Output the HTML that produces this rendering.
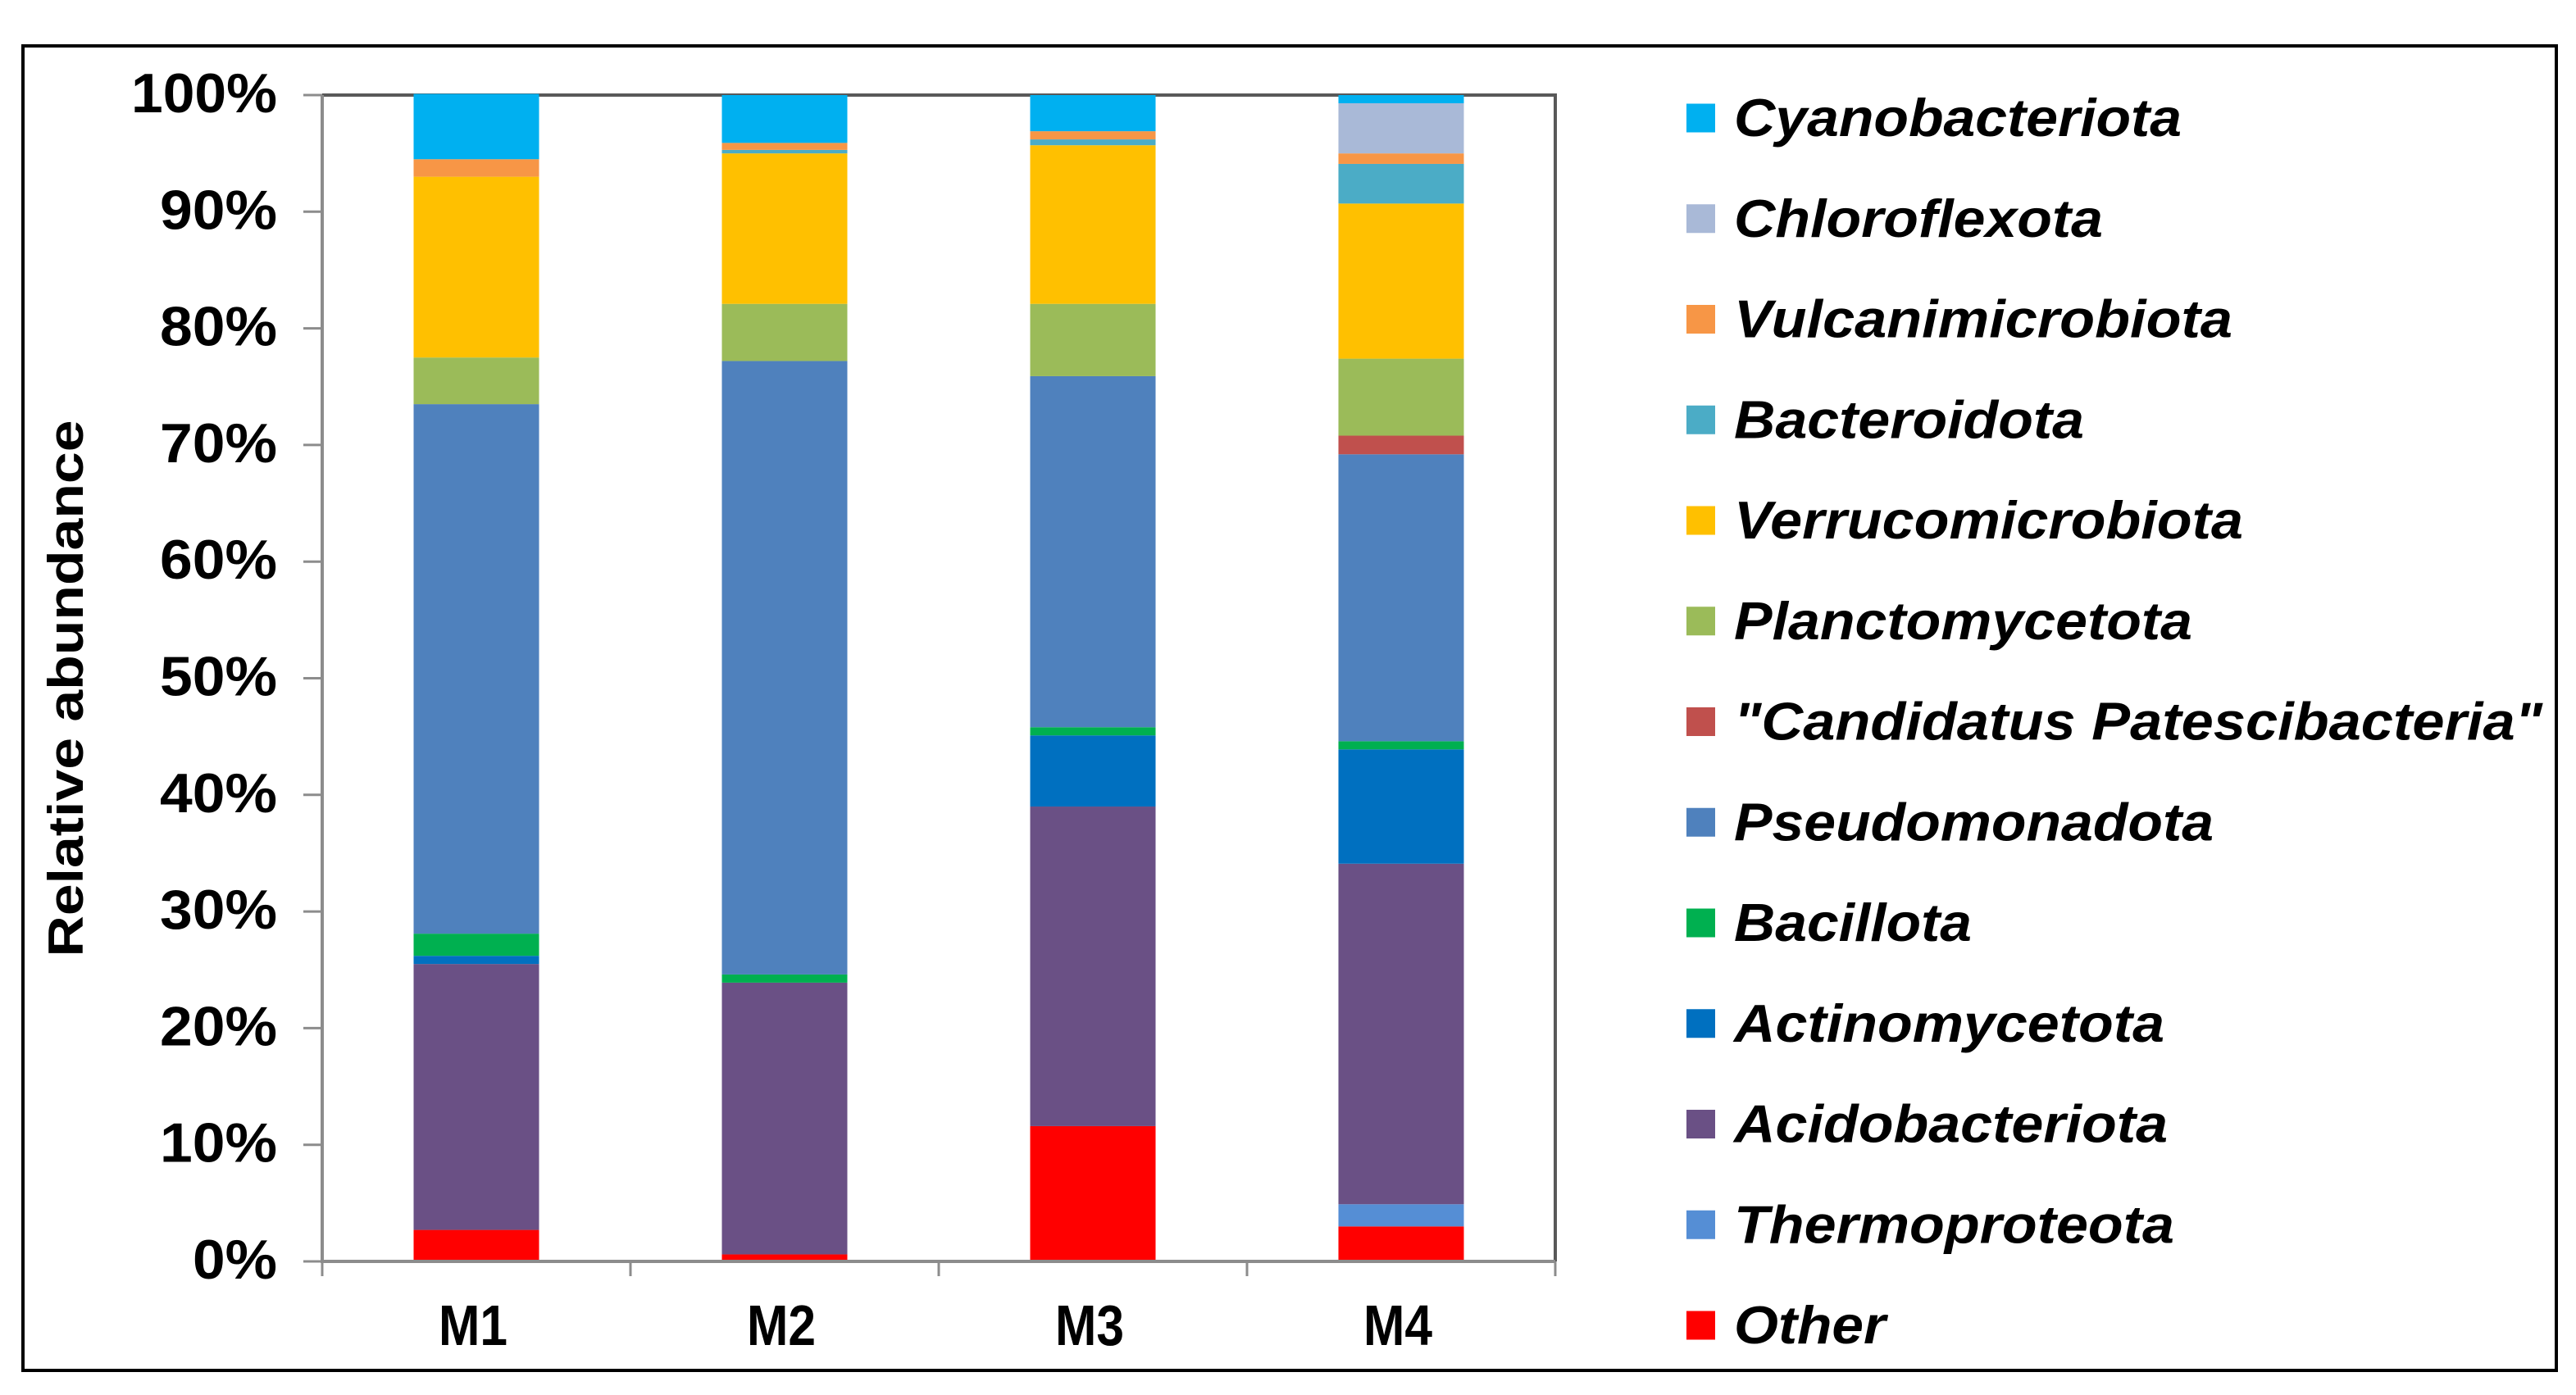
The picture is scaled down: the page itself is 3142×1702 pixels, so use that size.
<!DOCTYPE html>
<html><head><meta charset="utf-8"><style>
html,body{margin:0;padding:0;background:#fff;}
svg{display:block;font-family:"Liberation Sans",Arial,sans-serif;}
</style></head><body>
<svg id="chart" width="3142" height="1702" viewBox="0 0 3142 1702" xmlns="http://www.w3.org/2000/svg">
<rect x="28" y="56" width="3090" height="1616" fill="#fff" stroke="#000" stroke-width="4"/>
<text x="0" y="0" transform="translate(101,840) rotate(-90)" text-anchor="middle" font-size="60" font-weight="bold" textLength="655" lengthAdjust="spacingAndGlyphs">Relative abundance</text>
<g id="plot"></g>
<g id="legend"></g>
</svg>
<script>
const categories = ["M1","M2","M3","M4"];
const seriesNames = ["Other","Thermoproteota","Acidobacteriota","Actinomycetota","Bacillota","Pseudomonadota","\"Candidatus Patescibacteria\"","Planctomycetota","Verrucomicrobiota","Bacteroidota","Vulcanimicrobiota","Chloroflexota","Cyanobacteriota"];
const other = [2.7, 0.6, 11.6, 3.0];
const thermoproteota = [0, 0, 0, 1.9];
const acidobacteriota = [22.8, 23.3, 27.4, 29.2];
const actinomycetota = [0.7, 0, 6.1, 9.8];
const bacillota = [1.9, 0.7, 0.7, 0.7];
const pseudomonadota = [45.4, 52.6, 30.1, 24.6];
const patescibacteria = [0, 0, 0, 1.6];
const planctomycetota = [4.0, 4.9, 6.2, 6.6];
const verrucomicrobiota = [15.5, 12.9, 13.6, 13.3];
const bacteroidota = [0, 0.3, 0.5, 3.4];
const vulcanimicrobiota = [1.5, 0.6, 0.7, 0.9];
const chloroflexota = [0, 0, 0, 4.3];
const cyanobacteriota = [5.6, 4.1, 3.1, 0.7];
const yTicks = [0,10,20,30,40,50,60,70,80,90,100];
const yTickLabels = ["0%","10%","20%","30%","40%","50%","60%","70%","80%","90%","100%"];

const colors = ["#ff0000","#558ed5","#6a5085","#0070c0","#00b050","#4f81bd","#c0504d","#9bbb59","#ffc000","#4bacc6","#f79646","#a9b9d7","#00b0f0"];
const series = [other,thermoproteota,acidobacteriota,actinomycetota,bacillota,pseudomonadota,patescibacteria,planctomycetota,verrucomicrobiota,bacteroidota,vulcanimicrobiota,chloroflexota,cyanobacteriota];
const legendWidths = [185,537,529,525,290,585,986,559,621,427,608,450,546];

const NS="http://www.w3.org/2000/svg";
const X0=393, X1=1897, Y0=1539, Y1=116;
const catW=(X1-X0)/categories.length, barW=153;
function y(v){return Y0-(v/100)*(Y0-Y1);}
function xc(i){return X0+catW*(i+0.5);}
function mk(tag,attrs,parent){const e=document.createElementNS(NS,tag);for(const k in attrs)e.setAttribute(k,attrs[k]);parent.appendChild(e);return e;}
const plot=document.getElementById('plot');

const pb=mk('path',{d:`M${X0} ${Y1} H${X1} V${Y0}`,fill:'none',stroke:'#595959','stroke-width':4},plot);



categories.forEach((c,i)=>{
  let cum=0;
  series.forEach((s,j)=>{
    const v=s[i];
    if(v>0){
      const r=mk('rect',{x:xc(i)-barW/2,y:y(cum+v),width:barW,height:y(cum)-y(cum+v),fill:colors[j]},plot);
      
      
    }
    cum+=v;
  });
});

const ya=mk('line',{x1:X0,y1:Y1,x2:X0,y2:Y0+2,stroke:'#8c8c8c','stroke-width':4},plot);


yTicks.forEach((t,i)=>{
  const tl=mk('line',{x1:370,y1:y(t),x2:X0,y2:y(t),stroke:'#8c8c8c','stroke-width':3},plot);
  
  
  const lab=yTickLabels[i];
  const w=lab.length===4?178:(lab.length===3?143:103);
  const tx=mk('text',{x:338,y:y(t)+21,'text-anchor':'end','font-size':68,'font-weight':'bold',textLength:w,lengthAdjust:'spacingAndGlyphs'},plot);
  tx.textContent=lab;
  
  
});
const xa=mk('line',{x1:X0,y1:Y0,x2:X1,y2:Y0,stroke:'#8c8c8c','stroke-width':4},plot);


for(let i=0;i<=categories.length;i++){
  const tk=mk('line',{x1:X0+catW*i,y1:Y0,x2:X0+catW*i,y2:1557,stroke:'#8c8c8c','stroke-width':3},plot);
  
  
}
categories.forEach((c,i)=>{
  const tx=mk('text',{x:xc(i)-4,y:1641,'text-anchor':'middle','font-size':70,'font-weight':'bold',textLength:84,lengthAdjust:'spacingAndGlyphs'},plot);
  tx.textContent=c;
  
  
});

const lg=document.getElementById('legend');
for(let k=0;k<seriesNames.length;k++){
  const j=seriesNames.length-1-k;
  const cy=144+k*122.75;
  const sw=mk('rect',{x:2057,y:cy-17.5,width:35,height:35,fill:colors[j]},lg);
  
  
  const tx=mk('text',{x:2115,y:cy+22,'font-size':65,'font-weight':'bold','font-style':'italic',textLength:legendWidths[j],lengthAdjust:'spacingAndGlyphs'},lg);
  tx.textContent=seriesNames[j];
  
  
}
</script>
</body></html>
